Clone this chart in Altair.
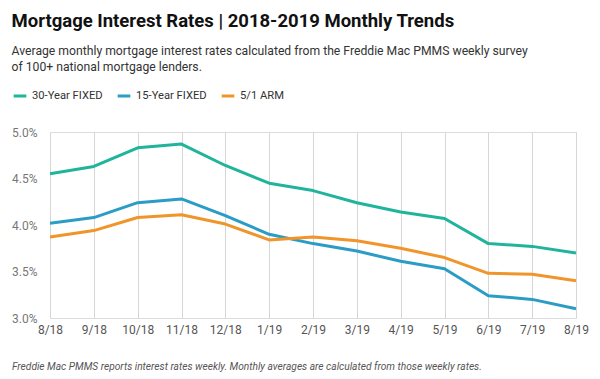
import altair as alt
import pandas as pd

months = ["8/18", "9/18", "10/18", "11/18", "12/18", "1/19", "2/19",
          "3/19", "4/19", "5/19", "6/19", "7/19", "8/19"]
fixed30 = [4.55, 4.63, 4.83, 4.87, 4.64, 4.45, 4.37, 4.24, 4.14, 4.07, 3.80, 3.77, 3.70]
fixed15 = [4.02, 4.08, 4.24, 4.28, 4.10, 3.90, 3.80, 3.72, 3.61, 3.53, 3.24, 3.20, 3.10]
arm51 = [3.87, 3.94, 4.08, 4.11, 4.01, 3.84, 3.87, 3.83, 3.75, 3.65, 3.48, 3.47, 3.40]
series = ["30-Year FIXED", "15-Year FIXED", "5/1 ARM"]
colors = ["#1fb49b", "#2a9cc5", "#f0952a"]
y_ticks = [3.0, 3.5, 4.0, 4.5, 5.0]

title_text = "Mortgage Interest Rates | 2018-2019 Monthly Trends"
subtitle_lines = [
    "Average monthly mortgage interest rates calculated from the Freddie Mac PMMS weekly survey",
    "of 100+ national mortgage lenders.",
]
footnote = "Freddie Mac PMMS reports interest rates weekly. Monthly averages are calculated from those weekly rates."

rows = []
for name, vals in zip(series, [fixed30, fixed15, arm51]):
    for m, v in zip(months, vals):
        rows.append({"month": m, "rate": v, "series": name})
df = pd.DataFrame(rows)

FONT = "Roboto"
W, H = 526, 186

lines = alt.Chart(df).mark_line(strokeWidth=3, strokeJoin="round").encode(
    x=alt.X("month:O", sort=months, scale=alt.Scale(type="point", padding=0),
            axis=alt.Axis(title=None, labelAngle=0, grid=True, gridColor="#d6d6d6",
                          gridWidth=1, domain=False, ticks=False, labelPadding=6,
                          labelFontSize=12, labelColor="#555", labelFont=FONT)),
    y=alt.Y("rate:Q", scale=alt.Scale(domain=[3, 5], nice=False, zero=False),
            axis=alt.Axis(title=None, values=y_ticks, grid=False, domain=False, ticks=False,
                          labelExpr="format(datum.value, '.1f') + '%'",
                          labelPadding=13, labelFontSize=12, labelColor="#777",
                          labelFont=FONT)),
    color=alt.Color("series:N", sort=series,
                    scale=alt.Scale(domain=series, range=colors),
                    legend=alt.Legend(title=None, orient="none", legendX=-38, legendY=-44,
                                      direction="horizontal", symbolType="stroke",
                                      symbolStrokeWidth=3, symbolSize=160,
                                      labelFontSize=11.2, labelFont=FONT, labelColor="#333",
                                      columnPadding=8, labelOffset=4)),
)

note = alt.Chart(pd.DataFrame({"t": [footnote]})).mark_text(
    align="left", baseline="middle", fontStyle="italic", fontSize=10.2,
    color="#555", font=FONT
).encode(text="t:N", x=alt.value(-38), y=alt.value(H + 49))

chart = alt.layer(lines, note).properties(
    width=W, height=H,
    padding={"left": 3, "top": 4, "right": 3, "bottom": 0},
    title=alt.TitleParams(text=title_text, subtitle=subtitle_lines, anchor="start",
                          frame="bounds", fontSize=18.5, font=FONT, fontWeight="bold",
                          color="#111", subtitleFont=FONT, subtitleFontSize=12.2,
                          subtitleColor="#333", subtitleLineHeight=16,
                          subtitlePadding=14, offset=15),
).configure_view(stroke=None).configure(background="white")

chart.save("out.html", embed_options={"renderer": "svg", "actions": False})
